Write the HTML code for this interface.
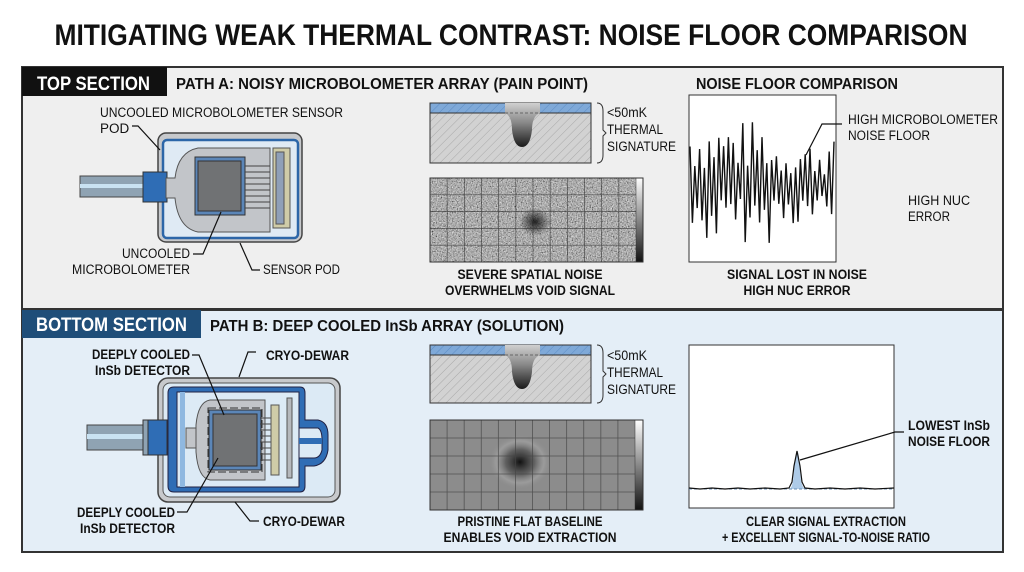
<!DOCTYPE html>
<html><head><meta charset="utf-8"><style>
html,body{margin:0;padding:0;background:#fff;}
svg{display:block;font-family:"Liberation Sans Narrow","Liberation Sans",sans-serif;}
.b{font-weight:bold}
</style></head><body>
<svg width="1024" height="572" viewBox="0 0 1024 572" xmlns="http://www.w3.org/2000/svg">
<defs>
<pattern id="hatch" width="6" height="6" patternUnits="userSpaceOnUse" patternTransform="rotate(45)">
<rect width="6" height="6" fill="#d2d2d2"/><line x1="0" y1="0" x2="0" y2="6" stroke="#a8a8a8" stroke-width="1"/></pattern>
<pattern id="hatchb" width="6" height="6" patternUnits="userSpaceOnUse" patternTransform="rotate(45)">
<rect width="6" height="6" fill="#7fa9d8"/><line x1="0" y1="0" x2="0" y2="6" stroke="#5c8cc4" stroke-width="1"/></pattern>
<linearGradient id="void" x1="0" y1="0" x2="0" y2="1"><stop offset="0" stop-color="#d0d0d0"/><stop offset="0.45" stop-color="#888"/><stop offset="1" stop-color="#1a1a1a"/></linearGradient>
<linearGradient id="bar" x1="0" y1="0" x2="0" y2="1"><stop offset="0" stop-color="#fff"/><stop offset="1" stop-color="#111"/></linearGradient>
<radialGradient id="spot1"><stop offset="0" stop-color="#111" stop-opacity="0.9"/><stop offset="1" stop-color="#111" stop-opacity="0"/></radialGradient>
<radialGradient id="spot2"><stop offset="0" stop-color="#111"/><stop offset="0.45" stop-color="#555" stop-opacity="0.8"/><stop offset="0.75" stop-color="#aaa" stop-opacity="0.5"/><stop offset="1" stop-color="#888" stop-opacity="0"/></radialGradient>
<filter id="gnoise" x="0" y="0" width="100%" height="100%"><feTurbulence type="fractalNoise" baseFrequency="0.8" numOctaves="2" seed="5" result="t"/><feColorMatrix in="t" type="matrix" values="0.33 0.33 0.33 0 0  0.33 0.33 0.33 0 0  0.33 0.33 0.33 0 0  0 0 0 0 1"/><feComponentTransfer><feFuncR type="linear" slope="1.8" intercept="-0.48"/><feFuncG type="linear" slope="1.8" intercept="-0.48"/><feFuncB type="linear" slope="1.8" intercept="-0.48"/></feComponentTransfer></filter>
</defs>
<rect width="1024" height="572" fill="#fff"/>
<text x="511" y="45" text-anchor="middle" class="b" font-size="30" textLength="913" lengthAdjust="spacingAndGlyphs" fill="#111">MITIGATING WEAK THERMAL CONTRAST: NOISE FLOOR COMPARISON</text>

<!-- TOP PANEL -->
<rect x="22" y="67" width="981" height="242" fill="#efefef" stroke="#333" stroke-width="2"/>
<rect x="22" y="67" width="145" height="29" fill="#111"/>
<text x="37" y="90" class="b" font-size="19" fill="#fff" textLength="113" lengthAdjust="spacingAndGlyphs">TOP SECTION</text>
<text x="176" y="89" class="b" font-size="16" fill="#111" textLength="412" lengthAdjust="spacingAndGlyphs">PATH A: NOISY MICROBOLOMETER ARRAY (PAIN POINT)</text>
<text x="696" y="89" class="b" font-size="16" fill="#111" textLength="202" lengthAdjust="spacingAndGlyphs">NOISE FLOOR COMPARISON</text>

<!-- top sensor -->
<rect x="80" y="176" width="66" height="21" fill="#8fa3b3" stroke="#444"/>
<rect x="80" y="184" width="66" height="4" fill="#c9e2f2"/>
<rect x="158" y="133" width="144" height="109" rx="8" fill="#c7c9cc" stroke="#444" stroke-width="1.5"/>
<rect x="163" y="140" width="135" height="98" rx="4" fill="#dfeaf4" stroke="#2c66a8" stroke-width="2.5"/>
<rect x="143" y="172" width="24" height="30" fill="#2f6db5" stroke="#333"/>
<path d="M166 178 L175 178 Q178 152 198 148 L270 148 L270 232 L198 232 Q178 228 175 198 L166 198 Z" fill="#c2c5c9" stroke="#555"/>
<rect x="195" y="157" width="50" height="58" fill="#5b86b8" stroke="#333"/>
<rect x="198" y="161" width="43" height="50" fill="#707274" stroke="#333"/>
<g stroke="#444" stroke-width="1">
<line x1="245" y1="166" x2="270" y2="166"/><line x1="245" y1="172" x2="270" y2="172"/><line x1="245" y1="178" x2="270" y2="178"/><line x1="245" y1="184" x2="270" y2="184"/><line x1="245" y1="190" x2="270" y2="190"/><line x1="245" y1="196" x2="270" y2="196"/><line x1="245" y1="202" x2="270" y2="202"/><line x1="245" y1="208" x2="270" y2="208"/></g>
<rect x="273" y="148" width="17" height="80" fill="#cfcca8" stroke="#555"/>
<rect x="276" y="152" width="8" height="72" fill="#8fa0b8" stroke="#555"/>
<g stroke="#111" stroke-width="1.2" fill="none">
<polyline points="132,126 138,126 160,150"/>
<polyline points="193,254 203,254 221,212"/>
<polyline points="260,270 252,270 240,243"/>
</g>
<g font-size="13.5" fill="#111">
<text x="100" y="117" textLength="243" lengthAdjust="spacingAndGlyphs">UNCOOLED MICROBOLOMETER SENSOR</text>
<text x="100" y="133">POD</text>
<text x="190" y="258" text-anchor="end" textLength="68" lengthAdjust="spacingAndGlyphs">UNCOOLED</text>
<text x="190" y="274" text-anchor="end" textLength="118" lengthAdjust="spacingAndGlyphs">MICROBOLOMETER</text>
<text x="263" y="274" textLength="77" lengthAdjust="spacingAndGlyphs">SENSOR POD</text>
</g>

<!-- top cross-section -->
<rect x="430" y="103" width="161" height="60" fill="url(#hatch)" stroke="#333"/>
<rect x="430" y="103" width="161" height="10" fill="url(#hatchb)" stroke="#333"/>
<path d="M505 103 L540 103 L540 113 Q532 116 532 130 Q530 147 522 147 Q514 147 512 130 Q512 116 505 113 Z" fill="url(#void)"/>
<line x1="505" y1="113" x2="540" y2="113" stroke="#666" stroke-dasharray="3,2"/>
<path d="M597 103 Q603 103 603 111 L603 130 L606 133 L603 136 L603 155 Q603 163 597 163" fill="none" stroke="#333"/>
<g font-size="13.5" fill="#111"><text x="607" y="117" textLength="40" lengthAdjust="spacingAndGlyphs">&lt;50mK</text><text x="607" y="134" textLength="56" lengthAdjust="spacingAndGlyphs">THERMAL</text><text x="607" y="151" textLength="69" lengthAdjust="spacingAndGlyphs">SIGNATURE</text></g>

<!-- top noise image -->
<rect x="430" y="178" width="206" height="84" fill="#777"/>
<rect x="430" y="178" width="206" height="84" filter="url(#gnoise)"/>
<ellipse cx="535" cy="222" rx="16" ry="14" fill="url(#spot1)"/>
<g stroke="#222" stroke-width="0.7" opacity="0.7" id="g1"></g>
<rect x="636" y="178" width="7" height="84" fill="url(#bar)" stroke="#333" stroke-width="0.5"/>
<rect x="430" y="178" width="213" height="84" fill="none" stroke="#333"/>
<g class="b" font-size="13.5" fill="#111" text-anchor="middle">
<text x="530" y="279" textLength="145" lengthAdjust="spacingAndGlyphs">SEVERE SPATIAL NOISE</text>
<text x="530" y="295" textLength="170" lengthAdjust="spacingAndGlyphs">OVERWHELMS VOID SIGNAL</text>
</g>

<!-- top chart -->
<rect x="689" y="95" width="147" height="167" fill="#fff" stroke="#333"/>
<polyline id="nz" fill="none" stroke="#111" stroke-width="1.4" points=""/>
<polyline points="842,124 822,124 806,155" fill="none" stroke="#111" stroke-width="1.2"/>
<g font-size="13.5" fill="#111">
<text x="848" y="124" textLength="150" lengthAdjust="spacingAndGlyphs">HIGH MICROBOLOMETER</text>
<text x="848" y="140" textLength="82" lengthAdjust="spacingAndGlyphs">NOISE FLOOR</text>
<text x="908" y="205" textLength="62" lengthAdjust="spacingAndGlyphs">HIGH NUC</text><text x="908" y="221" textLength="42" lengthAdjust="spacingAndGlyphs">ERROR</text>
</g>
<g class="b" font-size="13.5" fill="#111" text-anchor="middle">
<text x="797" y="279" textLength="140" lengthAdjust="spacingAndGlyphs">SIGNAL LOST IN NOISE</text>
<text x="797" y="295" textLength="107" lengthAdjust="spacingAndGlyphs">HIGH NUC ERROR</text>
</g>

<!-- BOTTOM PANEL -->
<rect x="22" y="310" width="981" height="242" fill="#e4eef7" stroke="#333" stroke-width="2"/>
<rect x="22" y="310" width="179" height="28" fill="#1f4e79"/>
<text x="36" y="331" class="b" font-size="19" fill="#fff" textLength="151" lengthAdjust="spacingAndGlyphs">BOTTOM SECTION</text>
<text x="210" y="331" class="b" font-size="16" fill="#111" textLength="354" lengthAdjust="spacingAndGlyphs">PATH B: DEEP COOLED InSb ARRAY (SOLUTION)</text>

<!-- bottom sensor -->
<rect x="87" y="425" width="58" height="25" fill="#8fa3b3" stroke="#444"/>
<rect x="87" y="434" width="58" height="5" fill="#c9e2f2"/>
<rect x="158" y="378" width="182" height="124" rx="10" fill="#c7c9cc" stroke="#444" stroke-width="1.5"/>
<rect x="163" y="383" width="172" height="114" rx="7" fill="#dceaf5" stroke="#555"/>
<path d="M168 393 Q168 387 174 387 L300 387 Q305 387 305 393 L305 420 L318 420 Q328 422 328 435 L328 450 Q326 464 314 466 L305 466 L305 486 Q305 492 300 492 L174 492 Q168 492 168 486 Z" fill="#2f6db5" stroke="#224"/>
<rect x="177" y="392" width="122" height="95" fill="#dceaf5" stroke="#224"/>
<path d="M299 428 L318 428 Q322 430 322 440 L322 450 Q320 458 314 458 L299 458 Z" fill="#dceaf5" stroke="#224"/>
<rect x="299" y="438" width="23" height="6" fill="#2f6db5"/>
<rect x="180" y="392" width="5" height="95" fill="#8fb8e0"/>
<rect x="143" y="420" width="24" height="35" fill="#2f6db5" stroke="#333"/>
<rect x="143" y="420" width="5" height="35" fill="#8fa3b3" stroke="#333"/>
<rect x="186" y="428" width="10" height="20" fill="#c2c5c9" stroke="#555"/>
<path d="M196 425 Q198 402 210 400 L265 400 L265 480 L210 480 Q198 478 196 452 Z" fill="#c2c5c9" stroke="#555"/>
<rect x="208" y="408" width="54" height="64" fill="none" stroke="#333" stroke-dasharray="8,3"/>
<rect x="209" y="410" width="52" height="60" fill="#5b86b8" stroke="#333"/>
<rect x="213" y="414" width="44" height="52" fill="#707274" stroke="#333"/>
<g stroke="#444" stroke-width="1">
<line x1="260" y1="418" x2="272" y2="418"/><line x1="260" y1="424" x2="272" y2="424"/><line x1="260" y1="430" x2="272" y2="430"/><line x1="260" y1="436" x2="272" y2="436"/><line x1="260" y1="442" x2="272" y2="442"/><line x1="260" y1="448" x2="272" y2="448"/><line x1="260" y1="454" x2="272" y2="454"/><line x1="260" y1="460" x2="272" y2="460"/></g>
<rect x="271" y="405" width="8" height="70" fill="#cfcca8" stroke="#555"/>
<rect x="287" y="398" width="5" height="80" fill="#b5b8bc" stroke="#555"/>
<g stroke="#111" stroke-width="1.2" fill="none">
<polyline points="192,355 199,355 224,415"/>
<polyline points="256,352 248,352 239,377"/>
<polyline points="177,512 187,512 218,458"/>
<polyline points="259,521 250,521 235,502"/>
</g>
<g class="b" font-size="13.5" fill="#111">
<text x="190" y="359" text-anchor="end" textLength="98" lengthAdjust="spacingAndGlyphs">DEEPLY COOLED</text>
<text x="190" y="375" text-anchor="end" textLength="95" lengthAdjust="spacingAndGlyphs">InSb DETECTOR</text>
<text x="175" y="517" text-anchor="end" textLength="98" lengthAdjust="spacingAndGlyphs">DEEPLY COOLED</text>
<text x="175" y="533" text-anchor="end" textLength="95" lengthAdjust="spacingAndGlyphs">InSb DETECTOR</text>
<text x="266" y="360" textLength="83" lengthAdjust="spacingAndGlyphs">CRYO-DEWAR</text>
<text x="263" y="526" textLength="82" lengthAdjust="spacingAndGlyphs">CRYO-DEWAR</text>
</g>

<!-- bottom cross-section -->
<rect x="430" y="345" width="161" height="58" fill="url(#hatch)" stroke="#333"/>
<rect x="430" y="345" width="161" height="10" fill="url(#hatchb)" stroke="#333"/>
<path d="M505 345 L540 345 L540 355 Q532 358 532 372 Q530 389 522 389 Q514 389 512 372 Q512 358 505 355 Z" fill="url(#void)"/>
<line x1="505" y1="355" x2="540" y2="355" stroke="#666" stroke-dasharray="3,2"/>
<path d="M597 345 Q603 345 603 353 L603 371 L606 374 L603 377 L603 395 Q603 403 597 403" fill="none" stroke="#333"/>
<g font-size="13.5" fill="#111"><text x="607" y="360" textLength="40" lengthAdjust="spacingAndGlyphs">&lt;50mK</text><text x="607" y="377" textLength="56" lengthAdjust="spacingAndGlyphs">THERMAL</text><text x="607" y="394" textLength="69" lengthAdjust="spacingAndGlyphs">SIGNATURE</text></g>

<!-- bottom image -->
<rect x="430" y="420" width="205" height="90" fill="#8c8c8c"/>
<ellipse cx="520" cy="462" rx="32" ry="28" fill="url(#spot2)"/>
<g stroke="#444" stroke-width="0.8" opacity="0.8" id="g2"></g>
<rect x="635" y="420" width="8" height="90" fill="url(#bar)" stroke="#333" stroke-width="0.5"/>
<rect x="430" y="420" width="213" height="90" fill="none" stroke="#333"/>
<g class="b" font-size="13.5" fill="#111" text-anchor="middle">
<text x="530" y="526" textLength="145" lengthAdjust="spacingAndGlyphs">PRISTINE FLAT BASELINE</text>
<text x="530" y="542" textLength="173" lengthAdjust="spacingAndGlyphs">ENABLES VOID EXTRACTION</text>
</g>

<!-- bottom chart -->
<rect x="689" y="345" width="205" height="163" fill="#fff" stroke="#333"/>
<path d="M789 489 Q793 489 794 470 Q796 451 797 451 Q799 451 800 470 Q801 489 806 489 Z" fill="#aecbe8"/>
<line x1="689" y1="489" x2="894" y2="489" stroke="#6a8fb5" stroke-dasharray="3,2"/>
<polyline fill="none" stroke="#111" stroke-width="1.2" points="689,488 700,489 712,488 725,489 738,488 750,489 765,488 780,489 789,488 792,482 794,466 797,451 800,466 802,482 805,488 815,489 830,488 845,489 860,488 875,489 894,488"/>
<polyline points="904,432 895,432 800,460" fill="none" stroke="#111" stroke-width="1.2"/>
<g class="b" font-size="13.5" fill="#111">
<text x="908" y="430" textLength="82" lengthAdjust="spacingAndGlyphs">LOWEST InSb</text>
<text x="908" y="446" textLength="82" lengthAdjust="spacingAndGlyphs">NOISE FLOOR</text>
</g>
<g class="b" font-size="13.5" fill="#111" text-anchor="middle">
<text x="826" y="526" textLength="160" lengthAdjust="spacingAndGlyphs">CLEAR SIGNAL EXTRACTION</text>
<text x="826" y="542" textLength="208" lengthAdjust="spacingAndGlyphs">+ EXCELLENT SIGNAL-TO-NOISE RATIO</text>
</g>
</svg>
<script>
(function(){
var ns="http://www.w3.org/2000/svg";
function grid(id,x0,y0,w,h,nx,ny){var g=document.getElementById(id);
for(var i=1;i<nx;i++){var l=document.createElementNS(ns,"line");var x=x0+w*i/nx;l.setAttribute("x1",x);l.setAttribute("x2",x);l.setAttribute("y1",y0);l.setAttribute("y2",y0+h);g.appendChild(l);}
for(var j=1;j<ny;j++){var l=document.createElementNS(ns,"line");var y=y0+h*j/ny;l.setAttribute("y1",y);l.setAttribute("y2",y);l.setAttribute("x1",x0);l.setAttribute("x2",x0+w);g.appendChild(l);}}
grid("g1",430,178,206,84,12,5);grid("g2",430,420,205,90,12,5);
var s=7;function r(){s=(s*9301+49297)%233280;return s/233280;}
var p=[];var up=true;for(var x=690;x<=835;x+=2.4){var amp=(x<770)?65:45;var v=(0.2+r()*0.8)*amp;var y=up?185-v:185+v*0.9;up=!up;y=Math.max(100,Math.min(258,y));p.push(x.toFixed(1)+","+y.toFixed(1));}
document.getElementById("nz").setAttribute("points",p.join(" "));
})();
</script>
</body></html>
